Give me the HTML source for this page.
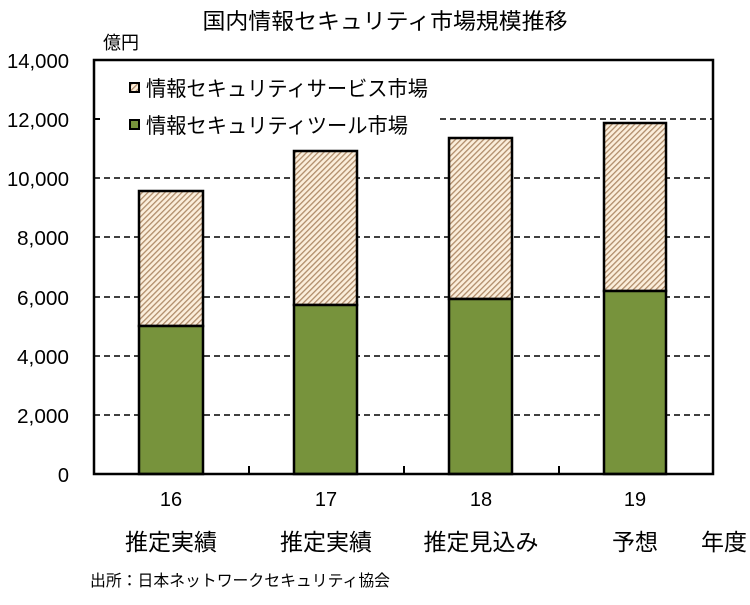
<!DOCTYPE html>
<html><head><meta charset="utf-8"><style>
body{margin:0;background:#fff;}
svg text{font-family:"Liberation Sans","Noto Sans CJK JP",sans-serif;fill:#000;}
</style></head><body>
<svg width="750" height="600" xmlns="http://www.w3.org/2000/svg">
<defs>
<pattern id="h" width="4" height="4" patternUnits="userSpaceOnUse" patternTransform="rotate(45)">
<rect width="4" height="4" fill="#fbeedb"/>
<rect width="1.3" height="4" fill="#b08c6a"/>
</pattern>
</defs>
<text x="385" y="29" font-size="22" text-anchor="middle" textLength="365" lengthAdjust="spacingAndGlyphs">国内情報セキュリティ市場規模推移</text>
<text x="103" y="49" font-size="18">億円</text>
<g stroke="#000" stroke-width="1.5" stroke-dasharray="6,4">
<line x1="440" y1="119" x2="713" y2="119"/>
<line x1="94" y1="178" x2="713" y2="178"/>
<line x1="94" y1="237" x2="713" y2="237"/>
<line x1="94" y1="297" x2="713" y2="297"/>
<line x1="94" y1="356" x2="713" y2="356"/>
<line x1="94" y1="415" x2="713" y2="415"/>
</g>
<g stroke="#000" stroke-width="2.5">
<rect x="139" y="191" width="64" height="135" fill="url(#h)"/>
<rect x="139" y="326" width="64" height="148" fill="#77933c"/>
<rect x="294" y="151" width="63" height="154" fill="url(#h)"/>
<rect x="294" y="305" width="63" height="169" fill="#77933c"/>
<rect x="449" y="138" width="63" height="161" fill="url(#h)"/>
<rect x="449" y="299" width="63" height="175" fill="#77933c"/>
<rect x="604" y="123" width="62" height="168" fill="url(#h)"/>
<rect x="604" y="291" width="62" height="183" fill="#77933c"/>
</g>
<rect x="94" y="60" width="619" height="414" fill="none" stroke="#000" stroke-width="2.5"/>
<g stroke="#000" stroke-width="2">
<line x1="94" y1="119" x2="100" y2="119"/>
<line x1="249" y1="474" x2="249" y2="466"/>
<line x1="404" y1="474" x2="404" y2="466"/>
<line x1="559" y1="474" x2="559" y2="466"/>
</g>
<g font-size="20" text-anchor="end">
<text x="69" y="68" textLength="62" lengthAdjust="spacingAndGlyphs">14,000</text>
<text x="69" y="127" textLength="62" lengthAdjust="spacingAndGlyphs">12,000</text>
<text x="69" y="186" textLength="62" lengthAdjust="spacingAndGlyphs">10,000</text>
<text x="69" y="245" textLength="52" lengthAdjust="spacingAndGlyphs">8,000</text>
<text x="69" y="305" textLength="52" lengthAdjust="spacingAndGlyphs">6,000</text>
<text x="69" y="364" textLength="52" lengthAdjust="spacingAndGlyphs">4,000</text>
<text x="69" y="423" textLength="52" lengthAdjust="spacingAndGlyphs">2,000</text>
<text x="69" y="482">0</text>
</g>
<rect x="130" y="83" width="9" height="9" fill="url(#h)" stroke="#000" stroke-width="2"/>
<text x="146" y="96" font-size="21" textLength="282" lengthAdjust="spacingAndGlyphs">情報セキュリティサービス市場</text>
<rect x="130" y="120" width="9" height="9" fill="#77933c" stroke="#000" stroke-width="2"/>
<text x="146" y="133" font-size="21" textLength="262" lengthAdjust="spacingAndGlyphs">情報セキュリティツール市場</text>
<g font-size="20" text-anchor="middle">
<text x="171" y="506">16</text>
<text x="326" y="506">17</text>
<text x="481" y="506">18</text>
<text x="635" y="506">19</text>
</g>
<g font-size="23" text-anchor="middle">
<text x="171" y="550">推定実績</text>
<text x="326" y="550">推定実績</text>
<text x="481" y="550">推定見込み</text>
<text x="635" y="550">予想</text>
<text x="724" y="550">年度</text>
</g>
<text x="90" y="586" font-size="16" textLength="300" lengthAdjust="spacingAndGlyphs">出所：日本ネットワークセキュリティ協会</text>
</svg>
</body></html>
